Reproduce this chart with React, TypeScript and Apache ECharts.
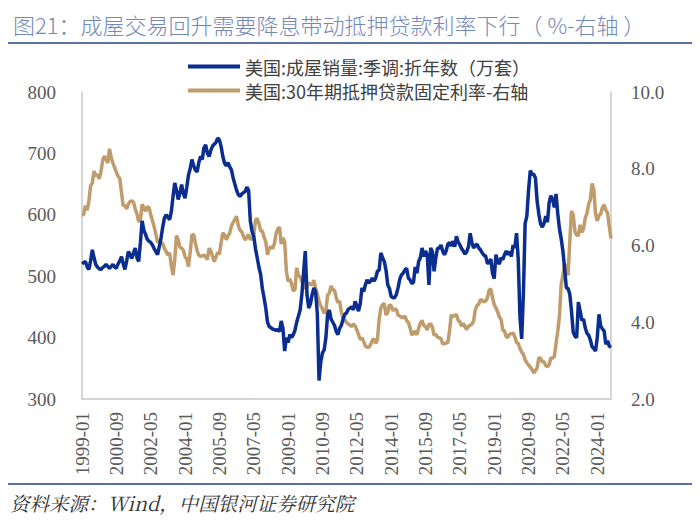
import React, { useEffect, useRef } from "react";
import * as echarts from "echarts";

// Existing home sales, SAAR (10k units), monthly 1999-01 .. 2024-09
const sales1999 = [520, 522, 524, 515, 511, 525, 543, 530, 519, 515, 512, 511];
const sales2000 = [514, 516, 519, 516, 513, 516, 519, 515, 513, 520, 525, 532];
const sales2001 = [520, 511, 525, 540, 535, 529, 538, 546, 530, 524, 555, 590];
const sales2002 = [575, 568, 560, 557, 555, 551, 545, 540, 535, 548, 562, 580];
const sales2003 = [595, 600, 596, 592, 605, 630, 652, 640, 625, 635, 649, 635];
const sales2004 = [627, 645, 665, 675, 690, 680, 673, 670, 685, 695, 690, 709];
const sales2005 = [714, 700, 695, 705, 712, 715, 718, 725, 722, 711, 695, 684];
const sales2006 = [680, 685, 678, 673, 660, 650, 640, 633, 630, 634, 636, 638];
const sales2007 = [645, 640, 590, 573, 565, 545, 530, 515, 503, 480, 465, 448];
const sales2008 = [425, 418, 416, 414, 413, 412, 413, 410, 427, 415, 378, 400];
const sales2009 = [392, 405, 400, 405, 412, 425, 435, 445, 470, 505, 541, 470];
const sales2010 = [448, 455, 470, 481, 475, 440, 330, 360, 375, 380, 400, 438];
const sales2011 = [445, 430, 425, 420, 410, 405, 415, 420, 430, 438, 440, 446];
const sales2012 = [448, 450, 445, 459, 452, 443, 455, 481, 475, 486, 494, 489];
const sales2013 = [492, 497, 492, 497, 508, 510, 538, 530, 524, 510, 486, 480];
const sales2014 = [467, 465, 465, 470, 481, 495, 502, 505, 510, 513, 497, 494];
const sales2015 = [488, 490, 515, 505, 524, 530, 546, 532, 541, 535, 486, 546];
const sales2016 = [540, 508, 530, 546, 545, 551, 541, 535, 541, 552, 555, 549];
const sales2017 = [557, 548, 565, 556, 551, 545, 541, 536, 540, 548, 570, 555];
const sales2018 = [546, 550, 552, 546, 543, 538, 534, 533, 521, 522, 528, 505];
const sales2019 = [496, 535, 524, 520, 530, 527, 535, 541, 535, 540, 532, 551];
const sales2020 = [546, 570, 527, 433, 398, 472, 586, 598, 640, 672, 666, 666];
const sales2021 = [660, 622, 601, 585, 580, 586, 598, 588, 620, 631, 625, 612];
const sales2022 = [634, 602, 577, 561, 541, 512, 481, 480, 471, 443, 409, 402];
const sales2023 = [400, 458, 444, 428, 430, 416, 407, 404, 396, 385, 382, 378];
const sales2024 = [400, 438, 419, 414, 411, 389, 395, 386, 384];

// 30-year fixed mortgage rate (%), monthly 1999-01 .. 2024-09
const rate1999 = [6.79, 6.81, 7.04, 6.92, 7.15, 7.55, 7.63, 7.94, 7.82, 7.85, 7.74, 7.91];
const rate2000 = [8.21, 8.33, 8.24, 8.15, 8.52, 8.29, 8.15, 8.03, 7.91, 7.8, 7.75, 7.38];
const rate2001 = [7.03, 7.05, 6.95, 7.08, 7.15, 7.16, 7.13, 6.95, 6.82, 6.62, 6.66, 7.07];
const rate2002 = [7.0, 6.89, 7.01, 6.99, 6.81, 6.65, 6.49, 6.29, 6.09, 6.11, 6.07, 6.05];
const rate2003 = [5.92, 5.84, 5.75, 5.81, 5.48, 5.23, 5.63, 6.26, 6.15, 5.95, 5.93, 5.88];
const rate2004 = [5.71, 5.64, 5.45, 5.83, 6.27, 6.29, 6.06, 5.87, 5.75, 5.72, 5.73, 5.75];
const rate2005 = [5.71, 5.63, 5.93, 5.86, 5.72, 5.58, 5.7, 5.82, 5.77, 6.07, 6.33, 6.27];
const rate2006 = [6.15, 6.25, 6.32, 6.51, 6.6, 6.68, 6.76, 6.52, 6.4, 6.36, 6.24, 6.14];
const rate2007 = [6.22, 6.29, 6.16, 6.18, 6.26, 6.66, 6.7, 6.57, 6.38, 6.38, 6.21, 6.1];
const rate2008 = [5.76, 5.92, 5.97, 5.92, 6.04, 6.32, 6.43, 6.48, 6.04, 6.2, 6.09, 5.33];
const rate2009 = [5.06, 5.13, 5.0, 4.81, 4.86, 5.42, 5.22, 5.19, 5.06, 4.95, 4.88, 4.93];
const rate2010 = [5.03, 4.99, 4.97, 5.1, 4.89, 4.74, 4.56, 4.43, 4.35, 4.23, 4.3, 4.71];
const rate2011 = [4.76, 4.95, 4.84, 4.84, 4.64, 4.51, 4.55, 4.27, 4.11, 4.07, 3.99, 3.96];
const rate2012 = [3.92, 3.89, 3.95, 3.91, 3.8, 3.68, 3.55, 3.6, 3.5, 3.38, 3.35, 3.35];
const rate2013 = [3.41, 3.53, 3.57, 3.45, 3.54, 4.07, 4.37, 4.46, 4.49, 4.19, 4.26, 4.46];
const rate2014 = [4.43, 4.3, 4.34, 4.34, 4.19, 4.16, 4.13, 4.12, 4.16, 4.04, 4.0, 3.86];
const rate2015 = [3.67, 3.71, 3.77, 3.67, 3.84, 3.98, 4.05, 3.91, 3.89, 3.8, 3.94, 3.96];
const rate2016 = [3.87, 3.66, 3.69, 3.61, 3.6, 3.57, 3.44, 3.44, 3.46, 3.47, 3.77, 4.2];
const rate2017 = [4.15, 4.17, 4.2, 4.05, 4.01, 3.9, 3.97, 3.88, 3.81, 3.9, 3.92, 3.95];
const rate2018 = [4.03, 4.33, 4.44, 4.47, 4.59, 4.57, 4.53, 4.55, 4.63, 4.83, 4.87, 4.64];
const rate2019 = [4.46, 4.37, 4.27, 4.14, 4.07, 3.8, 3.77, 3.62, 3.61, 3.69, 3.7, 3.72];
const rate2020 = [3.62, 3.47, 3.45, 3.31, 3.23, 3.16, 3.02, 2.94, 2.89, 2.83, 2.77, 2.68];
const rate2021 = [2.74, 2.81, 3.08, 3.06, 2.96, 2.98, 2.87, 2.84, 2.9, 3.07, 3.07, 3.1];
const rate2022 = [3.45, 3.76, 4.17, 4.98, 5.23, 5.52, 5.41, 5.22, 6.11, 6.9, 6.81, 6.36];
const rate2023 = [6.27, 6.26, 6.54, 6.34, 6.43, 6.71, 6.84, 7.07, 7.2, 7.62, 7.44, 6.82];
const rate2024 = [6.64, 6.78, 6.82, 6.99, 7.06, 6.92, 6.85, 6.5, 6.18];

const firstYear = 1999;
const lastYear = 2024;
const lastMonth = 9;

const seriesNames = [
  "美国:成屋销量:季调:折年数（万套）",
  "美国:30年期抵押贷款固定利率-右轴",
];
const leftTicks = { min: 300, max: 800, interval: 100 };
const rightTicks = { min: 2, max: 10, interval: 2 };

const titleText = "图21：成屋交易回升需要降息带动抵押贷款利率下行（ %-右轴 ）";
const sourceText = "资料来源：Wind，中国银河证券研究院";

const salesData = [
  sales1999, sales2000, sales2001, sales2002, sales2003, sales2004, sales2005,
  sales2006, sales2007, sales2008, sales2009, sales2010, sales2011, sales2012,
  sales2013, sales2014, sales2015, sales2016, sales2017, sales2018, sales2019,
  sales2020, sales2021, sales2022, sales2023, sales2024,
].flat();
const rateData = [
  rate1999, rate2000, rate2001, rate2002, rate2003, rate2004, rate2005,
  rate2006, rate2007, rate2008, rate2009, rate2010, rate2011, rate2012,
  rate2013, rate2014, rate2015, rate2016, rate2017, rate2018, rate2019,
  rate2020, rate2021, rate2022, rate2023, rate2024,
].flat();

const categories: string[] = [];
for (let y = firstYear; y <= lastYear; y++) {
  for (let m = 1; m <= 12; m++) {
    if (y === lastYear && m > lastMonth) break;
    categories.push(`${y}-${m < 10 ? "0" + m : m}`);
  }
}

const BLUE = "#0a2d8f";
const TAN = "#c09c6c";
const RULE = "#5a71ad";
const AXIS_TEXT = "#595959";
const SERIF = "'Liberation Serif', 'Times New Roman', serif";
const CJK = "'Noto Sans CJK SC', sans-serif";

export default function App() {
  const ref = useRef<HTMLDivElement>(null);
  useEffect(() => {
    document.body.style.margin = "0";
    if (!ref.current) return;
    const chart = echarts.init(ref.current, undefined, { renderer: "svg" });
    chart.setOption({
      animation: false,
      backgroundColor: "#ffffff",
      title: {
        text: titleText,
        left: 8,
        top: 8,
        textStyle: {
          fontFamily: CJK,
          fontSize: 22,
          fontWeight: 300,
          color: "#7487b9",
        },
      },
      legend: {
        orient: "vertical",
        left: 183,
        top: 51,
        icon: "rect",
        itemWidth: 52,
        itemHeight: 4,
        itemGap: 3,
        textStyle: {
          fontFamily: CJK,
          fontSize: 18,
          color: "#404040",
          lineHeight: 21,
        },
        data: seriesNames,
      },
      grid: { left: 82, right: 89, top: 92, bottom: 126, containLabel: false },
      xAxis: {
        type: "category",
        data: categories,
        boundaryGap: false,
        axisLine: { show: true, lineStyle: { color: "#c8c8c8", width: 1.5 } },
        axisTick: { show: false },
        axisLabel: {
          rotate: 90,
          interval: 19,
          margin: 13,
          fontFamily: SERIF,
          fontSize: 19,
          color: AXIS_TEXT,
        },
        splitLine: { show: false },
      },
      yAxis: [
        {
          type: "value",
          position: "left",
          min: leftTicks.min,
          max: leftTicks.max,
          interval: leftTicks.interval,
          axisLine: { show: true, lineStyle: { color: "#c8c8c8", width: 1.5 } },
          axisTick: { show: false },
          splitLine: { show: false },
          axisLabel: {
            margin: 26,
            fontFamily: SERIF,
            fontSize: 19,
            color: AXIS_TEXT,
          },
        },
        {
          type: "value",
          position: "right",
          min: rightTicks.min,
          max: rightTicks.max,
          interval: rightTicks.interval,
          axisLine: { show: true, lineStyle: { color: "#c8c8c8", width: 1.5 } },
          axisTick: { show: false },
          splitLine: { show: false },
          axisLabel: {
            margin: 20,
            fontFamily: SERIF,
            fontSize: 19,
            color: AXIS_TEXT,
            formatter: (v: number) => v.toFixed(1),
          },
        },
      ],
      series: [
        {
          name: seriesNames[0],
          type: "line",
          yAxisIndex: 0,
          data: salesData,
          symbol: "none",
          lineStyle: { color: BLUE, width: 3.5 },
          itemStyle: { color: BLUE },
          z: 3,
        },
        {
          name: seriesNames[1],
          type: "line",
          yAxisIndex: 1,
          data: rateData,
          symbol: "none",
          lineStyle: { color: TAN, width: 3.5 },
          itemStyle: { color: TAN },
          z: 2,
        },
      ],
      graphic: [
        {
          type: "line",
          shape: { x1: 8, y1: 43, x2: 692, y2: 43 },
          style: { stroke: RULE, lineWidth: 2 },
        },
        {
          type: "line",
          shape: { x1: 8, y1: 484, x2: 692, y2: 484 },
          style: { stroke: RULE, lineWidth: 2 },
        },
        {
          type: "text",
          left: 10,
          top: 493,
          style: {
            text: sourceText,
            fontFamily: "'Noto Serif CJK SC', " + SERIF + ", " + CJK,
            fontStyle: "italic",
            fontSize: 19.5,
            fill: "#333333",
          },
        },
      ],
    });
    return () => chart.dispose();
  }, []);
  return <div ref={ref} style={{ width: 700, height: 525 }} />;
}
